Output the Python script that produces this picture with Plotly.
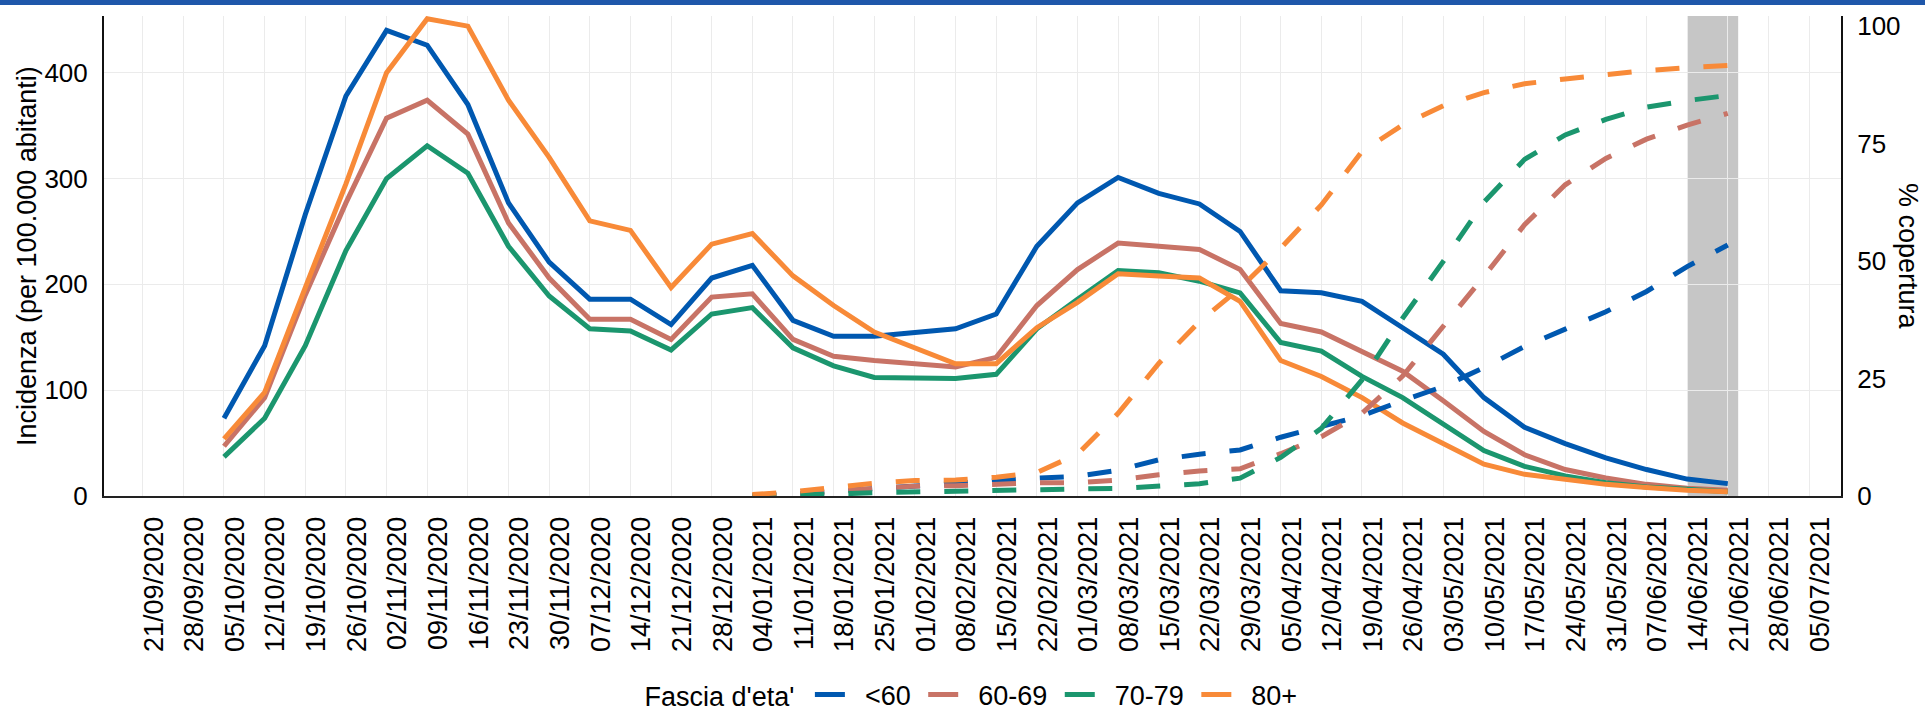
import plotly.graph_objects as go
from datetime import datetime, timedelta

# ---------------- data ----------------
week_labels = [
    "21/09/2020", "28/09/2020", "05/10/2020", "12/10/2020", "19/10/2020", "26/10/2020",
    "02/11/2020", "09/11/2020", "16/11/2020", "23/11/2020", "30/11/2020", "07/12/2020",
    "14/12/2020", "21/12/2020", "28/12/2020", "04/01/2021", "11/01/2021", "18/01/2021",
    "25/01/2021", "01/02/2021", "08/02/2021", "15/02/2021", "22/02/2021", "01/03/2021",
    "08/03/2021", "15/03/2021", "22/03/2021", "29/03/2021", "05/04/2021", "12/04/2021",
    "19/04/2021", "26/04/2021", "03/05/2021", "10/05/2021", "17/05/2021", "24/05/2021",
    "31/05/2021", "07/06/2021", "14/06/2021", "21/06/2021", "28/06/2021", "05/07/2021",
]

age_groups = ["<60", "60-69", "70-79", "80+"]

# incidence weeks: 05/10/2020 .. 21/06/2021
incid_weeks = week_labels[2:40]
incid_under60 = [73.5, 142, 266, 378, 440, 426, 370, 277, 221, 186, 186, 162, 206, 218, 166, 151,
                 151, 155, 158, 172, 236, 277, 301, 286, 276, 250, 194, 192, 184, 159, 134, 93,
                 65, 49.5, 36, 25, 16, 11.7]
incid_60_69 = [47, 93, 190, 277, 357, 374, 342, 258, 206, 167, 167, 148, 188, 191, 148, 132,
               128, 125, 122, 131, 180, 214, 239, 236, 233, 214, 163, 155, 137, 118, 90, 61,
               39, 25, 17, 11, 7.3, 5.4]
incid_70_79 = [37, 73.5, 142, 232, 300, 331, 305, 236, 189, 158, 156, 138, 172, 178, 140, 123,
               112, 111, 111, 115, 158, 186, 213, 211, 203, 192, 145, 137, 113, 93, 68, 43,
               28, 19, 12.6, 8.5, 6.3, 4.1]
incid_80plus = [54, 98, 197, 295, 400, 451, 444, 374, 320, 260, 251, 197, 238, 248, 208, 180,
                155, 140, 125, 125, 159, 183, 210, 208, 206, 184, 128, 113, 93, 69, 49, 30,
                20.5, 16, 11, 8, 5.4, 4.1]

# vaccination coverage weeks: 04/01/2021 .. 21/06/2021
cover_weeks = week_labels[15:40]
cover_under60 = [0.1, 0.4, 1.0, 1.6, 2.2, 2.7, 3.2, 3.8, 4.2, 5.5, 7.7, 8.9, 9.8, 12.5, 14.8,
                 17.1, 20.3, 23.3, 27.3, 31.8, 35.5, 39.2, 43.5, 48.8, 53.4]
cover_60_69 = [0.1, 0.4, 1.0, 1.6, 2.1, 2.2, 2.6, 2.8, 2.8, 3.4, 4.5, 5.3, 5.8, 9.0, 12.6,
               17.6, 25.5, 36.0, 46.7, 57.7, 66.2, 71.8, 75.9, 78.9, 81.4]
cover_70_79 = [0.0, 0.1, 0.4, 0.7, 0.9, 1.0, 1.3, 1.5, 1.5, 1.6, 2.0, 2.6, 3.8, 8.2, 14.4,
               24.7, 37.8, 49.9, 62.5, 71.6, 76.8, 80.1, 82.7, 84.1, 85.2]
cover_80plus = [0.3, 0.9, 1.8, 2.7, 3.3, 3.4, 4.0, 5.0, 8.9, 17.6, 28.2, 37.1, 44.2, 52.7, 61.9,
                73.3, 78.9, 83.0, 85.8, 87.7, 88.7, 89.6, 90.5, 91.1, 91.6]

shade_start = "2021-06-14"
shade_end = "2021-06-22 19:00"

left_ticks = [0, 100, 200, 300, 400]
right_ticks = [0, 25, 50, 75, 100]

# ---------------- styling ----------------
colors = ["#0058B0", "#C87366", "#1B966E", "#F88A38"]
FONT = "Liberation Sans, Arial, sans-serif"
grid_col = "#EBEBEB"
NB = "\u00a0"


def to_dt(s):
    return datetime.strptime(s, "%d/%m/%Y")


week_x = [to_dt(s) for s in week_labels]
incid_x = [to_dt(s) for s in incid_weeks]
cover_x = [to_dt(s) for s in cover_weeks]
label_offset = timedelta(days=1.9)
label_x = [d + label_offset for d in week_x]

x_range = ["2020-09-14 08:00", "2021-07-10 12:00"]

incid_series = [incid_under60, incid_60_69, incid_70_79, incid_80plus]
cover_series = [cover_under60, cover_60_69, cover_70_79, cover_80plus]

fig = go.Figure()
for i, (g, c, vals) in enumerate(zip(age_groups, colors, incid_series)):
    trail = NB if i < len(age_groups) - 1 else ""
    fig.add_trace(go.Scatter(
        x=incid_x, y=vals, mode="lines", name=NB * 2 + g + trail, legendgroup=g,
        line=dict(color=c, width=5), xaxis="x", yaxis="y",
    ))
for g, c, vals in zip(age_groups, colors, cover_series):
    fig.add_trace(go.Scatter(
        x=cover_x, y=vals, mode="lines", name=g, legendgroup=g, showlegend=False,
        line=dict(color=c, width=5, dash="24px,24px"), xaxis="x2", yaxis="y2",
    ))

W, H = 1925, 712
ml, mr, mt, mb = 104, 84, 16, 216
pw, ph = W - ml - mr, H - mt - mb


def px_to_paper_x(p):
    return (p - ml) / pw


def px_to_paper_y(p):
    return (H - mb - p) / ph


fig.update_layout(
    width=W, height=H,
    margin=dict(l=ml, r=mr, t=mt, b=mb, pad=0, autoexpand=False),
    paper_bgcolor="white", plot_bgcolor="white",
    font=dict(family=FONT, size=27, color="black"),
    xaxis=dict(
        type="date", range=x_range, tickvals=week_x, showticklabels=False,
        showgrid=True, gridcolor=grid_col, gridwidth=1.3,
        showline=True, linecolor="#222", linewidth=2, zeroline=False, ticks="",
    ),
    xaxis2=dict(
        type="date", range=x_range, overlaying="x", anchor="y", side="bottom",
        tickvals=label_x, ticktext=week_labels, tickangle=-90,
        showgrid=False, showline=False, zeroline=False,
        ticks="outside", ticklen=9, tickcolor="rgba(0,0,0,0)",
        tickfont=dict(family=FONT, size=27, color="black"),
    ),
    yaxis=dict(
        range=[0, 453.6], tickvals=left_ticks, showgrid=True, gridcolor=grid_col, gridwidth=1.3,
        showline=True, linecolor="#111", linewidth=2, zeroline=False,
        ticks="outside", ticklen=9, tickcolor="rgba(0,0,0,0)",
        tickfont=dict(family=FONT, size=26, color="black"),
    ),
    yaxis2=dict(
        range=[0, 102.1], tickvals=right_ticks, overlaying="y", side="right", anchor="x",
        showgrid=False, showline=True, linecolor="#111", linewidth=2, zeroline=False,
        ticks="outside", ticklen=9, tickcolor="rgba(0,0,0,0)",
        tickfont=dict(family=FONT, size=26, color="black"),
    ),
    legend=dict(
        orientation="h", x=0.5, xanchor="center", y=px_to_paper_y(695), yanchor="middle",
        font=dict(family=FONT, size=27, color="black"),
        title=dict(text="Fascia d'eta'" + NB, font=dict(family=FONT, size=27, color="black"),
                   side="left"),
        bgcolor="rgba(0,0,0,0)",
    ),
    showlegend=True,
)

fig.add_shape(type="rect", xref="x", yref="paper", x0=shade_start, x1=shade_end, y0=0, y1=1,
              fillcolor="#C6C6C6", line=dict(width=0), layer="between")
fig.add_shape(type="rect", xref="paper", yref="paper",
              x0=px_to_paper_x(-5), x1=px_to_paper_x(W + 5),
              y0=px_to_paper_y(5), y1=px_to_paper_y(-5),
              fillcolor="#1F57AA", line=dict(width=0), layer="above")

fig.add_annotation(text="Incidenza (per 100.000 abitanti)", textangle=-90,
                   xref="paper", yref="paper", x=px_to_paper_x(27), y=0.5,
                   xanchor="center", yanchor="middle", showarrow=False,
                   font=dict(family=FONT, size=27, color="black"))
fig.add_annotation(text="% copertura", textangle=90,
                   xref="paper", yref="paper", x=px_to_paper_x(1908), y=0.5,
                   xanchor="center", yanchor="middle", showarrow=False,
                   font=dict(family=FONT, size=27, color="black"))

fig.write_html(
    "out.html",
    config={"displayModeBar": False},
    post_script="document.body.style.margin='0';document.body.style.overflow='hidden';",
)
